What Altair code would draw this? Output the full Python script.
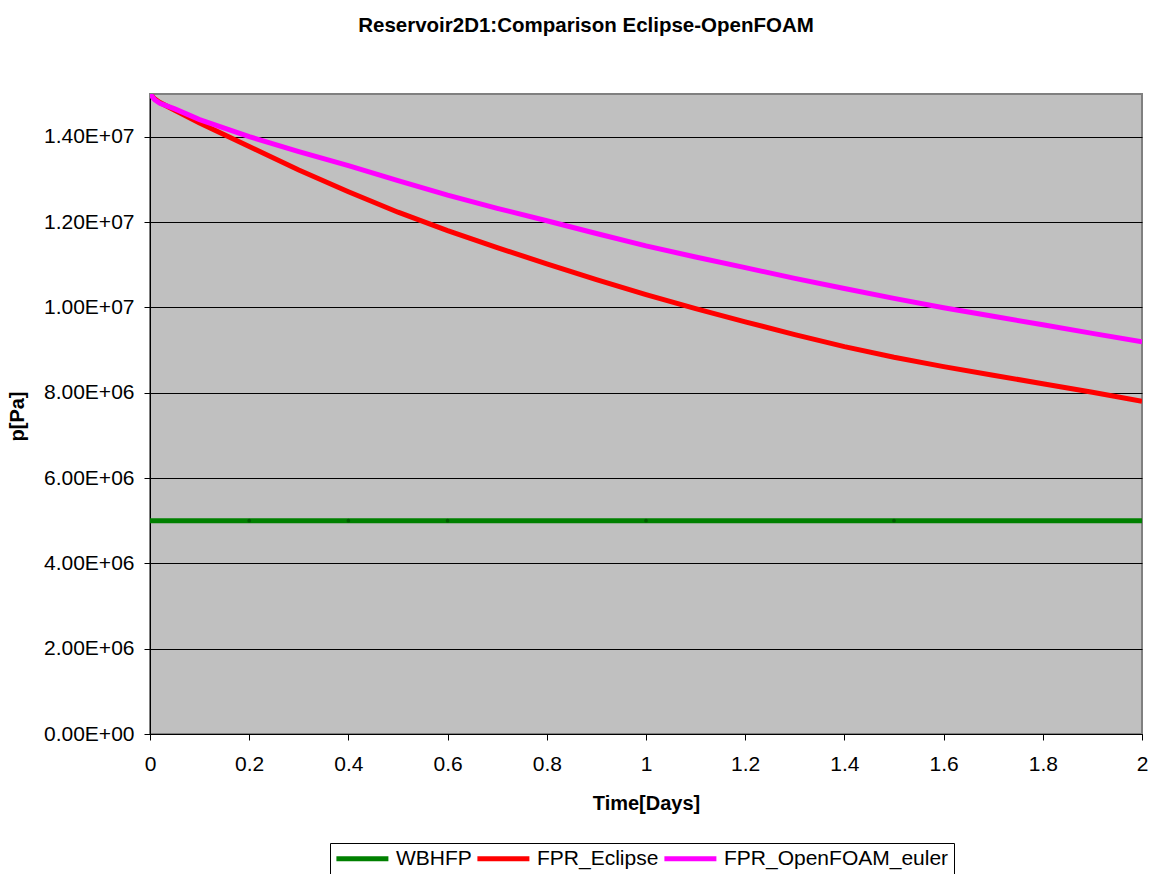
import altair as alt
import pandas as pd

# Time axis [days] and pressures [Pa]
time_days = [0.0, 0.01, 0.02, 0.05, 0.1, 0.2, 0.3, 0.4, 0.5, 0.6, 0.7, 0.8, 0.9,
             1.0, 1.1, 1.2, 1.3, 1.4, 1.5, 1.6, 1.7, 1.8, 1.9, 2.0]
fpr_eclipse = [1.500e7, 1.488e7, 1.480e7, 1.462e7, 1.432e7, 1.377e7, 1.322e7, 1.271e7,
               1.223e7, 1.180e7, 1.140e7, 1.102e7, 1.065e7, 1.030e7, 0.997e7, 0.966e7,
               0.936e7, 0.908e7, 0.883e7, 0.861e7, 0.841e7, 0.821e7, 0.801e7, 0.780e7]
fpr_openfoam = [1.500e7, 1.486e7, 1.478e7, 1.465e7, 1.440e7, 1.400e7, 1.365e7, 1.332e7,
                1.297e7, 1.263e7, 1.232e7, 1.203e7, 1.173e7, 1.144e7, 1.118e7, 1.093e7,
                1.068e7, 1.044e7, 1.021e7, 0.999e7, 0.979e7, 0.959e7, 0.939e7, 0.919e7]
wbhfp_time = [0.0, 0.2, 0.4, 0.6, 1.0, 1.5, 2.0]
wbhfp = [5.0e6, 5.0e6, 5.0e6, 5.0e6, 5.0e6, 5.0e6, 5.0e6]

series_names = ["WBHFP", "FPR_Eclipse", "FPR_OpenFOAM_euler"]
series_colors = ["#008000", "#FF0000", "#FF00FF"]
y_ticks = [0, 2e6, 4e6, 6e6, 8e6, 1e7, 1.2e7, 1.4e7]
x_ticks = [0, 0.2, 0.4, 0.6, 0.8, 1.0, 1.2, 1.4, 1.6, 1.8, 2.0]

rows = []
for t, p in zip(wbhfp_time, wbhfp):
    rows.append({"t": t, "p": p, "series": "WBHFP"})
for t, p in zip(time_days, fpr_eclipse):
    rows.append({"t": t, "p": p, "series": "FPR_Eclipse"})
for t, p in zip(time_days, fpr_openfoam):
    rows.append({"t": t, "p": p, "series": "FPR_OpenFOAM_euler"})
df = pd.DataFrame(rows)
markers = pd.DataFrame({"t": wbhfp_time[1:-1], "p": wbhfp[1:-1]})

FONT = "Liberation Sans, Arial, Helvetica, sans-serif"

y_label_expr = (
    "datum.value == 0 ? '0.00E+00' : "
    "(datum.value < 1e7 ? format(datum.value / 1e6, '.2f') + 'E+06' "
    ": format(datum.value / 1e7, '.2f') + 'E+07')"
)

x_enc = alt.X(
    "t:Q",
    scale=alt.Scale(domain=[0, 2], nice=False, zero=False),
    axis=alt.Axis(
        title="Time[Days]",
        values=x_ticks,
        format="~g",
        grid=False,
        labelFlush=False,
        domainColor="#000000",
        domainWidth=1,
        tickColor="#000000",
        tickSize=6,
        labelPadding=13,
        labelFontSize=21,
        labelFont=FONT,
        labelColor="#000000",
        titleFont=FONT,
        titleFontSize=20,
        titleFontWeight="bold",
        titleColor="#000000",
        titleX=496,
        titleY=69,
        titleBaseline="middle",
    ),
)

y_enc = alt.Y(
    "p:Q",
    scale=alt.Scale(domain=[0, 1.5e7], nice=False),
    axis=alt.Axis(
        title="p[Pa]",
        values=y_ticks,
        labelExpr=y_label_expr,
        grid=True,
        labelFlush=False,
        gridColor="#000000",
        gridWidth=1,
        domainColor="#000000",
        domainWidth=1,
        tickColor="#000000",
        tickSize=6,
        labelPadding=10,
        labelFontSize=21,
        labelFont=FONT,
        labelColor="#000000",
        titleFont=FONT,
        titleFontSize=20,
        titleFontWeight="bold",
        titleColor="#000000",
        titleAngle=-90,
        titleX=-123,
        titleY=322,
        titleAlign="center",
        titleBaseline="bottom",
    ),
)

lines = (
    alt.Chart(df)
    .mark_line(strokeWidth=5, clip=True)
    .encode(
        x=x_enc,
        y=y_enc,
        color=alt.Color(
            "series:N",
            scale=alt.Scale(domain=series_names, range=series_colors),
            sort=series_names,
            legend=alt.Legend(
                title=None,
                orient="none",
                legendX=180,
                legendY=749,
                direction="horizontal",
                symbolType="M-1.4,0H6.6",
                symbolSize=169,
                symbolStrokeWidth=5,
                labelFont=FONT,
                labelFontSize=21,
                labelColor="#000000",
                labelLimit=400,
                labelOffset=40,
                columnPadding=-5,
                strokeColor="#000000",
                padding=5,
                fillColor="#FFFFFF",
            ),
        ),
        order=alt.Order("t:Q"),
    )
)

# small data markers along the WBHFP line
dots = (
    alt.Chart(markers)
    .mark_point(filled=True, size=14, color="#005a00", opacity=1)
    .encode(x="t:Q", y="p:Q")
)

chart = (
    alt.layer(lines, dots)
    .properties(
        width=992,
        height=640,
        background="#FFFFFF",
        padding={"left": 150, "top": 94, "right": 13, "bottom": 140},
        autosize=alt.AutoSizeParams(type="none"),
        title=alt.TitleParams(
            "Reservoir2D1:Comparison Eclipse-OpenFOAM",
            font=FONT,
            fontSize=20.5,
            fontWeight="bold",
            color="#000000",
            anchor="middle",
            dx=-60,
            offset=58,
        ),
    )
    .configure_view(fill="#C0C0C0", stroke="#808080", strokeWidth=2)
)

chart.save("out.html", embed_options={"renderer": "svg", "actions": False})
